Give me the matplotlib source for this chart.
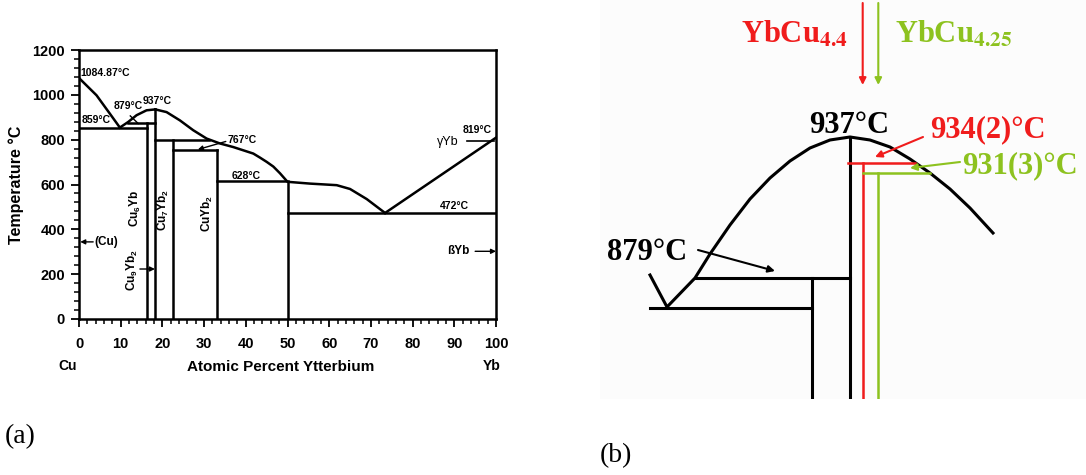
import matplotlib
matplotlib.use('Agg')
import matplotlib.pyplot as plt

plt.rcParams['font.family'] = ['Liberation Sans', 'DejaVu Sans']
plt.rcParams['font.weight'] = 'bold'
plt.rcParams['mathtext.fontset'] = 'custom'
plt.rcParams['mathtext.rm'] = 'Liberation Sans:bold'
plt.rcParams['mathtext.it'] = 'Liberation Sans:bold'
plt.rcParams['mathtext.bf'] = 'Liberation Sans:bold'

W, H = 1086, 475

# ---- (a) Cu-Yb phase diagram (at.% Yb, deg C) ----
liq1_x = [0, 4.2, 7.4, 9.8]
liq1_t = [1075, 998, 916, 854]
liq2_x = [9.8, 11.8, 13.8, 16.2, 18.3]
liq2_t = [854, 879, 909, 931, 935]
liq3_x = [18.3, 21.0, 24.2, 27.4, 30.6, 33.8, 37.0, 41.8, 43.4, 45.0, 46.6, 48.2, 50,
          55.4, 61.8, 65, 69, 73.4]
liq3_t = [935, 923, 886, 842, 805, 783, 767, 738, 720, 701, 680, 650, 612,
          604, 597, 580, 535, 473]
liq4_x = [73.4, 100]
liq4_t = [473, 809]

# invariant (horizontal) lines
h_t = [854, 873, 800, 753, 615, 473]
h_x0 = [0, 11.8, 18.3, 22.6, 33.1, 50]
h_x1 = [16.2, 18.3, 31.2, 33.1, 50, 100]
# compound (vertical) lines
v_x = [16.2, 18.3, 22.6, 33.1, 50]
v_top = [873, 935, 800, 753, 612]

temp_labels = ['1084.87°C', '859°C', '879°C', '937°C', '767°C', '628°C', '472°C', '819°C']
temp_lab_x = [0.4, 0.7, 8.2, 15.3, 35.7, 36.7, 86.6, 92.1]
temp_lab_t = [1096, 886, 949, 972, 797, 638, 503, 842]

phase_labels = ['Cu$_6$Yb', 'Cu$_7$Yb$_2$', 'CuYb$_2$', 'Cu$_9$Yb$_2$']
phase_lab_x = [13.5, 20.2, 30.8, 12.9]
phase_lab_t = [494, 486, 472, 218]

fig = plt.figure(figsize=(W / 100, H / 100), dpi=100)
ax = fig.add_axes([79 / W, 1 - 319 / H, (496 - 79) / W, (319 - 50) / H])

for xs, ts in [(liq1_x, liq1_t), (liq2_x, liq2_t), (liq3_x, liq3_t), (liq4_x, liq4_t)]:
    ax.plot(xs, ts, color='k', lw=1.8)
for t, x0, x1 in zip(h_t, h_x0, h_x1):
    ax.plot([x0, x1], [t, t], color='k', lw=1.8)
for x, top in zip(v_x, v_top):
    ax.plot([x, x], [0, top], color='k', lw=1.8)

# small leader at the 879 peritectic
ax.plot([12.3, 14.2], [906, 872], color='k', lw=1.0)
# gamma/beta Yb transformation mark
ax.plot([93, 99.5], [794, 794], color='k', lw=1.2)

for s, x, t in zip(temp_labels, temp_lab_x, temp_lab_t):
    ax.text(x, t, s, fontsize=7.5, ha='left', va='center')
for s, x, t in zip(phase_labels, phase_lab_x, phase_lab_t):
    ax.text(x, t, s, fontsize=8.5, rotation=90, ha='center', va='center')

arr = dict(arrowstyle='-|>', color='k', lw=1.0, mutation_scale=7, shrinkA=0, shrinkB=0)
ax.annotate('', xy=(28.5, 756), xytext=(35.2, 792), arrowprops=arr)
ax.annotate('', xy=(0.3, 344), xytext=(3.4, 344), arrowprops=arr)
ax.annotate('', xy=(18.2, 223), xytext=(14.6, 223), arrowprops=arr)
ax.annotate('', xy=(100, 302), xytext=(95, 302), arrowprops=arr)
ax.text(3.8, 344, '(Cu)', fontsize=8.5, ha='left', va='center')
ax.text(91, 302, 'ßYb', fontsize=8.5, ha='center', va='center')
ax.text(88.4, 790, 'γYb', fontsize=9, ha='center', va='center', fontweight='normal')

ax.set_xlim(0, 100)
ax.set_ylim(0, 1200)
ax.set_xticks(range(0, 101, 10))
ax.set_xticks(range(0, 101, 2), minor=True)
ax.set_yticks(range(0, 1201, 200))
ax.set_yticks(range(0, 1201, 40), minor=True)
ax.tick_params(which='major', direction='out', length=6, width=1.3, labelsize=10.5, pad=4)
ax.tick_params(which='minor', direction='out', length=3.5, width=1.1)
ax.tick_params(axis='x', which='major', pad=7)
for sp in ax.spines.values():
    sp.set_linewidth(1.8)

fig.text(16 / W, 1 - 185 / H, 'Temperature °C', rotation=90, fontsize=11.5,
         ha='center', va='center')
fig.text(281 / W, 1 - 367 / H, 'Atomic Percent Ytterbium', fontsize=11,
         ha='center', va='center')
fig.text(68 / W, 1 - 366 / H, 'Cu', fontsize=10, ha='center', va='center')
fig.text(492 / W, 1 - 366 / H, 'Yb', fontsize=10, ha='center', va='center')

# ---- (b) schematic zoom of the congruent melting region ----
RED = '#f01c1c'
GREEN = '#8dc21f'

dome_x = [650, 667, 695, 710, 730, 750, 770, 790, 810, 830, 850, 870, 890, 910, 930, 950, 970, 993]
dome_y = [275, 307, 278, 254, 225, 199, 178, 161, 148, 140, 137, 140, 147, 159, 173, 189, 208, 233]

blk_hy = [278, 308]
blk_hx0 = [695, 650]
blk_hx1 = [850, 812]
blk_vx = [850, 812]
blk_vtop = [137, 278]

col_hy = [163, 173]
col_hx0 = [848, 863]
col_hx1 = [915, 930]
col_vx = [862.7, 878.3]
colors = [RED, GREEN]

axb = fig.add_axes([600 / W, 1 - 399 / H, 486 / W, 399 / H])
axb.set_facecolor('#fcfcfc')
axb.set_xlim(600, 1086)
axb.set_ylim(399, 0)
axb.set_xticks([])
axb.set_yticks([])
for sp in axb.spines.values():
    sp.set_visible(False)

axb.plot(dome_x, dome_y, color='k', lw=2.2, solid_joinstyle='round')
for y, x0, x1 in zip(blk_hy, blk_hx0, blk_hx1):
    axb.plot([x0, x1], [y, y], color='k', lw=2.2)
for x, top in zip(blk_vx, blk_vtop):
    axb.plot([x, x], [top, 399], color='k', lw=2.2)
for y, x0, x1, x, c in zip(col_hy, col_hx0, col_hx1, col_vx, colors):
    axb.plot([x0, x1], [y, y], color=c, lw=1.8)
    axb.plot([x, x], [y, 399], color=c, lw=1.8)
    axb.annotate('', xy=(x, 85), xytext=(x, 3),
                 arrowprops=dict(arrowstyle='-|>', color=c, lw=1.5, mutation_scale=10,
                                 shrinkA=0, shrinkB=0))

serif = ['Liberation Serif', 'DejaVu Serif']
axb.text(848, 43, r'YbCu$_{\mathbf{4.4}}$', color=RED, fontsize=22, family=serif,
         math_fontfamily='stix', ha='right', va='baseline')
axb.text(895, 43, r'YbCu$_{\mathbf{4.25}}$', color=GREEN, fontsize=22, family=serif,
         math_fontfamily='stix', ha='left', va='baseline')
axb.text(849, 133, '937°C', color='k', fontsize=22, family=serif, ha='center', va='baseline')
axb.text(930, 137, '934(2)°C', color=RED, fontsize=22, family=serif, ha='left', va='baseline')
axb.text(962, 173, '931(3)°C', color=GREEN, fontsize=22, family=serif, ha='left', va='baseline')
axb.text(607, 260, '879°C', color='k', fontsize=22, family=serif, ha='left', va='baseline')

axb.annotate('', xy=(875, 157), xytext=(923, 137),
             arrowprops=dict(arrowstyle='-|>', color=RED, lw=1.5, mutation_scale=10,
                             shrinkA=0, shrinkB=0))
axb.annotate('', xy=(910, 168), xytext=(960, 162),
             arrowprops=dict(arrowstyle='-|>', color=GREEN, lw=1.5, mutation_scale=10,
                             shrinkA=0, shrinkB=0))
axb.annotate('', xy=(775, 271), xytext=(698, 250),
             arrowprops=dict(arrowstyle='-|>', color='k', lw=1.5, mutation_scale=10,
                             shrinkA=0, shrinkB=0))

fig.text(5 / W, 1 - 437 / H, '(a)', fontsize=20, family=serif, fontweight='normal',
         ha='left', va='center')
fig.text(600 / W, 1 - 456 / H, '(b)', fontsize=20, family=serif, fontweight='normal',
         ha='left', va='center')

fig.savefig('out.png', dpi=100)
